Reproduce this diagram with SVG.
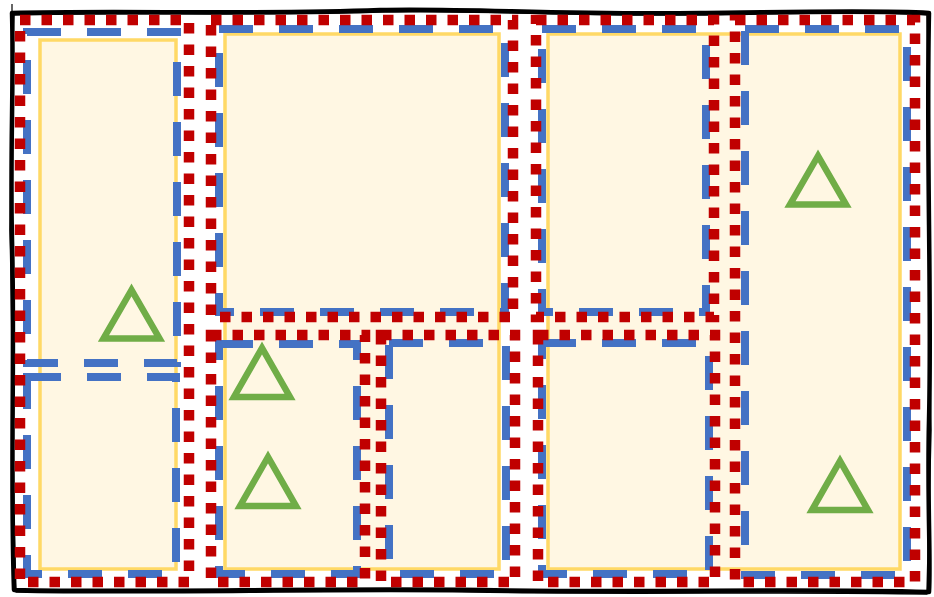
<svg xmlns="http://www.w3.org/2000/svg" width="934" height="597" viewBox="0 0 934 597">
<style>
.y{fill:#FFF7E3;stroke:#FFD966;stroke-width:3.5}
.b{fill:none;stroke:#4472C4;stroke-width:8;stroke-dasharray:34 26}
.r{fill:none;stroke:#C00000;stroke-width:10.5;stroke-dasharray:10.5 11}
.t{fill:none;stroke:#70AD47;stroke-width:6.5;stroke-linejoin:miter}
.k{fill:none;stroke:#000;stroke-width:4.5;stroke-linejoin:round;stroke-linecap:round}
.k2{fill:none;stroke:#000;stroke-width:1.5;stroke-linejoin:round;stroke-linecap:round}
</style>
<rect x="0" y="0" width="934" height="597" fill="#fff"/>
<g id="frame">
<path class="k" d="M12,13 C120,10 250,15 380,10 C470,8 560,15 700,13 C800,12 880,10 929,13 C926,150 932,300 929,420 C927,500 931,560 929,592 C800,588 650,593 480,590 C300,588 150,593 14,590 C10,480 15,350 12,240 C10,150 14,80 12,13 Z"/>
<path class="k2" d="M14,15 C130,12 260,16 385,12 C480,10 570,16 705,15 C810,13 885,12 927,15 C930,160 928,310 931,430 C929,510 928,570 927,594 C790,591 640,595 470,592 C310,590 160,595 16,592 C12,470 13,340 10,230 C12,140 11,70 14,15"/>
<path d="M12,4 L12,33" stroke="#000" stroke-width="1.2" fill="none"/>
</g>
<g id="area-left"><rect class="y" x="40" y="40" width="136" height="529"/></g>
<g id="area-middle"><rect class="y" x="225" y="34" width="274" height="535"/></g>
<g id="area-right"><rect class="y" x="548" y="34" width="352" height="535"/></g>
<g id="blue-1"><rect class="b" x="27" y="32" width="150" height="331"/></g>
<g id="blue-2"><rect class="b" x="27" y="377" width="149" height="197"/></g>
<g id="blue-3"><rect class="b" x="219" y="29" width="286" height="283"/></g>
<g id="blue-4"><rect class="b" x="219" y="344" width="138" height="230"/></g>
<g id="blue-5"><rect class="b" x="389" y="343" width="117" height="231"/></g>
<g id="blue-6"><rect class="b" x="542" y="29" width="164" height="283"/></g>
<g id="blue-7"><rect class="b" x="542" y="343" width="167" height="231"/></g>
<g id="blue-8"><rect class="b" x="745" y="29" width="162" height="546"/></g>
<g id="red-1"><rect class="r" x="20" y="20" width="169" height="562"/></g>
<g id="red-2"><rect class="r" x="211" y="20" width="302" height="297"/></g>
<g id="red-3"><rect class="r" x="211" y="335" width="154" height="247"/></g>
<g id="red-4"><rect class="r" x="381" y="335" width="134" height="247"/></g>
<g id="red-5"><rect class="r" x="536" y="20" width="178" height="297"/></g>
<g id="red-6"><rect class="r" x="538" y="335" width="177" height="247"/></g>
<g id="red-7"><rect class="r" x="735" y="20" width="180" height="562"/></g>
<g id="tri-1"><path class="t" d="M131.5,290 L103.5,338.5 L159.5,338.5 Z"/></g>
<g id="tri-2"><path class="t" d="M262,348 L234,397 L290,397 Z"/></g>
<g id="tri-3"><path class="t" d="M268,457 L240,506 L296,506 Z"/></g>
<g id="tri-4"><path class="t" d="M818,156 L790,204.5 L846,204.5 Z"/></g>
<g id="tri-5"><path class="t" d="M840,461 L812,510 L868,510 Z"/></g>
<g id="connectors"></g>
</svg>
